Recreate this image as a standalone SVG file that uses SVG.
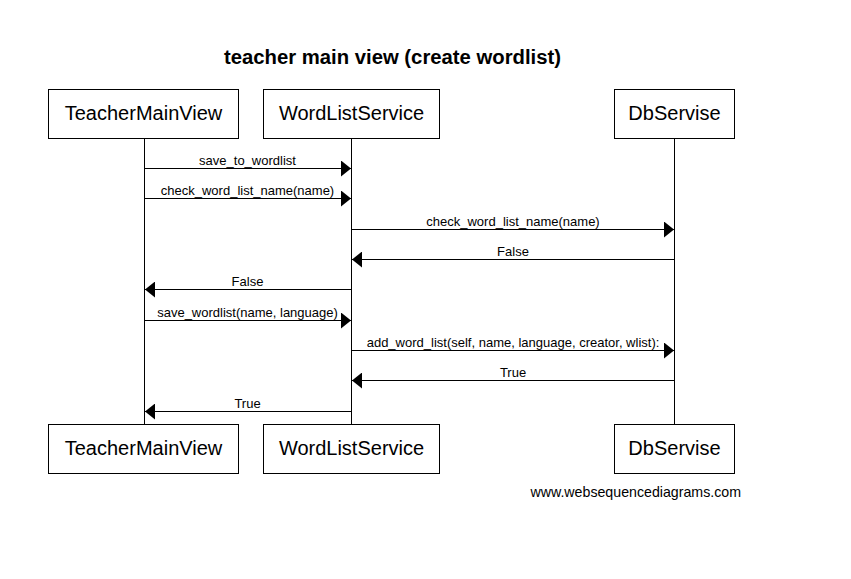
<svg xmlns="http://www.w3.org/2000/svg" width="851" height="579" viewBox="0 0 851 579">
<style>
.box{fill:#fff;stroke:#000;stroke-width:1}
.pt{font-family:"Liberation Sans",Arial,sans-serif;font-size:20px;text-anchor:middle;fill:#000}
.lbl{font-family:"Liberation Sans",Arial,sans-serif;font-size:13px;text-anchor:middle;fill:#000}
.life{stroke:#000;stroke-width:1}
.msg{stroke:#000;stroke-width:1;marker-end:url(#ah)}
</style>
<defs>
<marker id="ah" markerUnits="userSpaceOnUse" viewBox="0 0 10 16" refX="10" refY="8" markerWidth="10" markerHeight="16" orient="auto">
<path d="M0,0 L10,8 L0,16 z" fill="#000"/>
</marker>
</defs>
<rect width="851" height="579" fill="#fff"/>
<text x="392.5" y="64" font-family="Liberation Sans,Arial,sans-serif" font-size="20.3" font-weight="bold" text-anchor="middle">teacher main view (create wordlist)</text>
<g id="lifelines">
<line class="life" x1="144.5" y1="138" x2="144.5" y2="424"/>
<line class="life" x1="351.5" y1="138" x2="351.5" y2="424"/>
<line class="life" x1="674.5" y1="138" x2="674.5" y2="424"/>
</g>
<g id="TeacherMainView">
<rect class="box" x="48.5" y="89.5" width="190" height="49"/>
<text class="pt" x="143.5" y="120">TeacherMainView</text>
</g>
<g id="WordListService">
<rect class="box" x="263.5" y="89.5" width="176" height="49"/>
<text class="pt" x="351.5" y="120">WordListService</text>
</g>
<g id="DbServise">
<rect class="box" x="614.5" y="89.5" width="120" height="49"/>
<text class="pt" x="674.5" y="120">DbServise</text>
</g>
<g id="TeacherMainView-bottom">
<rect class="box" x="48.5" y="424.5" width="190" height="49"/>
<text class="pt" x="143.5" y="455">TeacherMainView</text>
</g>
<g id="WordListService-bottom">
<rect class="box" x="263.5" y="424.5" width="176" height="49"/>
<text class="pt" x="351.5" y="455">WordListService</text>
</g>
<g id="DbServise-bottom">
<rect class="box" x="614.5" y="424.5" width="120" height="49"/>
<text class="pt" x="674.5" y="455">DbServise</text>
</g>
<g id="connectors">
<line class="msg" x1="144.5" y1="168.5" x2="351" y2="168.5"/>
<text class="lbl" x="247.5" y="165">save_to_wordlist</text>
<line class="msg" x1="144.5" y1="198.5" x2="351" y2="198.5"/>
<text class="lbl" x="247.5" y="195">check_word_list_name(name)</text>
<line class="msg" x1="351.5" y1="229.5" x2="674" y2="229.5"/>
<text class="lbl" x="513" y="226">check_word_list_name(name)</text>
<line class="msg" x1="674.5" y1="259.5" x2="352" y2="259.5"/>
<text class="lbl" x="513" y="256">False</text>
<line class="msg" x1="351.5" y1="289.5" x2="145" y2="289.5"/>
<text class="lbl" x="247.5" y="286">False</text>
<line class="msg" x1="144.5" y1="320.5" x2="351" y2="320.5"/>
<text class="lbl" x="247.5" y="317">save_wordlist(name, language)</text>
<line class="msg" x1="351.5" y1="350.5" x2="674" y2="350.5"/>
<text class="lbl" x="513" y="347">add_word_list(self, name, language, creator, wlist):</text>
<line class="msg" x1="674.5" y1="380.5" x2="352" y2="380.5"/>
<text class="lbl" x="513" y="377">True</text>
<line class="msg" x1="351.5" y1="411.5" x2="145" y2="411.5"/>
<text class="lbl" x="247.5" y="408">True</text>
</g>
<text x="741" y="497" font-family="Liberation Sans,Arial,sans-serif" font-size="14.2" text-anchor="end">www.websequencediagrams.com</text>
</svg>
